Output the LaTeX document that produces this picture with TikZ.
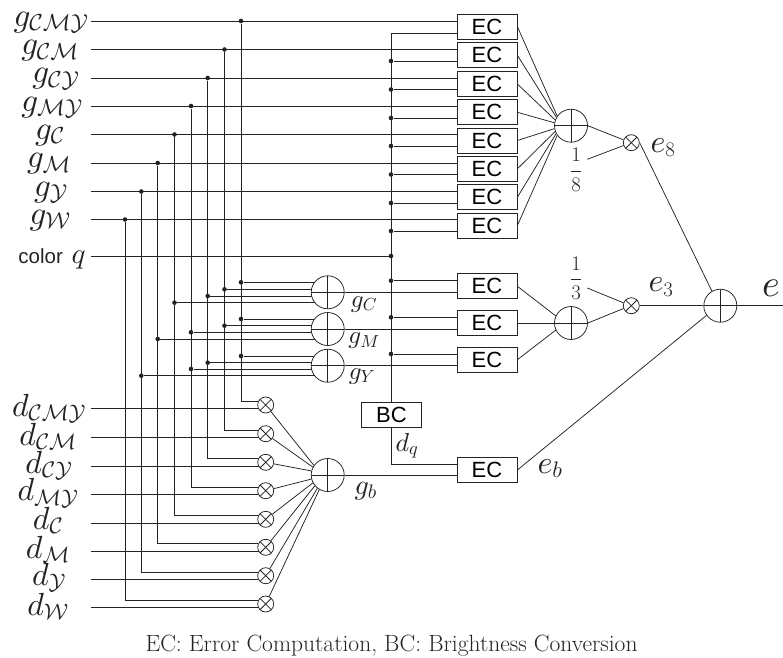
\documentclass[tikz,border=0pt]{standalone}
\usepackage{fontspec}
\usetikzlibrary{backgrounds}
\newfontfamily\helv{Liberation Sans}
\definecolor{wirecol}{RGB}{35,35,35}
\DeclareFontShape{OML}{cmm}{m}{it}{<-> cmmi10}{}
\DeclareFontShape{OMS}{cmsy}{m}{n}{<-> cmsy10}{}

\begin{document}
\begin{tikzpicture}[
  x=1pt, y=-1pt,
  wire/.style={draw=wirecol, line width=0.75pt},
  blk/.style={draw=wirecol, fill=white, line width=0.75pt, minimum width=60pt,
    minimum height=25pt, inner sep=0pt, font=\helv\fontsize{22}{24}\selectfont},
  sumc/.style={circle, draw=wirecol, fill=white, line width=0.75pt, minimum size=33pt,
    inner sep=0pt, path picture={
      \draw[wirecol, line width=0.75pt] (path picture bounding box.north) -- (path picture bounding box.south);
      \draw[wirecol, line width=0.75pt] (path picture bounding box.west) -- (path picture bounding box.east);}},
  mulc/.style={circle, draw=wirecol, fill=white, line width=0.75pt, minimum size=16pt,
    inner sep=0pt, path picture={
      \draw[wirecol, line width=0.75pt] (path picture bounding box.north west) -- (path picture bounding box.south east);
      \draw[wirecol, line width=0.75pt] (path picture bounding box.south west) -- (path picture bounding box.north east);}},
  jct/.style={circle, fill=wirecol, inner sep=0pt, minimum size=4.6pt},
  lab/.style={anchor=base, inner sep=0pt, text=wirecol, font=\fontsize{33}{35}\selectfont},
  dlab/.style={anchor=base, inner sep=0pt, text=wirecol, font=\fontsize{32}{34}\selectfont},
  sublab/.style={anchor=base, inner sep=0pt, text=wirecol, font=\fontsize{25}{27}\selectfont},
  frc/.style={inner sep=0pt, text=wirecol, font=\fontsize{22}{24}\selectfont},
]
  \useasboundingbox (0,0) rectangle (783,657);

  % Input labels, top group
  \node[lab] (lgcmy) at (51,26) {$g_{\mathcal{C}\mathcal{M}\mathcal{Y}}$};
  \node[lab] (lgcm) at (50,54.5) {$g_{\mathcal{C}\mathcal{M}}$};
  \node[lab] (lgcy) at (56,82.7) {$g_{\mathcal{C}\mathcal{Y}}$};
  \node[lab] (lgmy) at (52,111) {$g_{\mathcal{M}\mathcal{Y}}$};
  \node[lab] (lgc) at (50,139) {$g_{\mathcal{C}}$};
  \node[lab] (lgm) at (49,167.7) {$g_{\mathcal{M}}$};
  \node[lab] (lgy) at (51,196) {$g_{\mathcal{Y}}$};
  \node[lab] (lgw) at (50,224) {$g_{\mathcal{W}}$};
  \node[anchor=base, inner sep=0pt, text=wirecol, font=\fontsize{29}{31}\selectfont] (lq) at (52,263)
    {{\helv\fontsize{20.5}{22}\selectfont color} $q$};

  % Input labels, bottom group
  \node[dlab] (ldcmy) at (49,416) {$d_{\mathcal{C}\mathcal{M}\mathcal{Y}}$};
  \node[dlab] (ldcm) at (48,445) {$d_{\mathcal{C}\mathcal{M}}$};
  \node[dlab] (ldcy) at (49,473) {$d_{\mathcal{C}\mathcal{Y}}$};
  \node[dlab] (ldmy) at (48,500.7) {$d_{\mathcal{M}\mathcal{Y}}$};
  \node[dlab] (ldc) at (48,529) {$d_{\mathcal{C}}$};
  \node[dlab] (ldm) at (48,558) {$d_{\mathcal{M}}$};
  \node[dlab] (ldy) at (49,585) {$d_{\mathcal{Y}}$};
  \node[dlab] (ldw) at (48,615) {$d_{\mathcal{W}}$};

  % Free wire ends
  \coordinate (igcmy) at (91,21);
  \coordinate (igcm) at (91,49.5);
  \coordinate (igcy) at (91,78);
  \coordinate (igmy) at (91,106);
  \coordinate (igc) at (91,134.5);
  \coordinate (igm) at (91,163);
  \coordinate (igy) at (91,191.5);
  \coordinate (igw) at (91,219.5);
  \coordinate (iq) at (91,256);
  \coordinate (idcmy) at (91,408.7);
  \coordinate (idcm) at (91,437.3);
  \coordinate (idcy) at (91,466);
  \coordinate (idmy) at (91,494.7);
  \coordinate (idc) at (91,523);
  \coordinate (idm) at (91,551);
  \coordinate (idy) at (91,579.7);
  \coordinate (idw) at (91,607.3);
  \coordinate (oute) at (783,305.7);

  % EC boxes
  \node[blk] (eca) at (487,26.7) {EC};
  \node[blk] (ecb) at (487,55.3) {EC};
  \node[blk] (ecc) at (487,84) {EC};
  \node[blk] (ecd) at (487,112.3) {EC};
  \node[blk] (ece) at (487,140.5) {EC};
  \node[blk] (ecf) at (487,168.8) {EC};
  \node[blk] (ecg) at (487,197.2) {EC};
  \node[blk] (ech) at (487,225.5) {EC};
  \node[blk] (ecj) at (487,286.3) {EC};
  \node[blk] (eck) at (487,323) {EC};
  \node[blk] (ecl) at (487,359.7) {EC};
  \node[blk] (ecm) at (487,470) {EC};
  \node[blk] (bc) at (391.5,414.5) {BC};

  % Adders and multipliers
  \node[sumc] (sumC) at (327.7,292.3) {};
  \node[sumc] (sumM) at (327.7,329) {};
  \node[sumc] (sumY) at (327.7,365.7) {};
  \node[sumc] (sumb) at (327.7,475) {};
  \node[sumc] (sumh) at (571,125.7) {};
  \node[sumc] (sumt) at (571,323) {};
  \node[sumc] (sume) at (720.3,305.7) {};
  \node[mulc] (mula) at (265.7,405) {};
  \node[mulc] (mulb) at (265.7,433.7) {};
  \node[mulc] (mulc) at (265.7,462.3) {};
  \node[mulc] (muld) at (265.7,490.7) {};
  \node[mulc] (mule) at (265.7,519.3) {};
  \node[mulc] (mulf) at (265.7,547.3) {};
  \node[mulc] (mulg) at (265.7,575.7) {};
  \node[mulc] (mulh) at (265.7,604) {};
  \node[mulc] (mulx) at (631.3,142.7) {};
  \node[mulc] (mulz) at (631.3,305.7) {};

  % Weights and output labels
  \node[frc] (frh) at (576,170) {$\displaystyle\frac{1}{8}$};
  \node[frc] (frt) at (576,278.3) {$\displaystyle\frac{1}{3}$};
  \node[dlab] (le8) at (663,152) {$e_8$};
  \node[dlab] (le3) at (661,291.7) {$e_3$};
  \node[dlab] (leb) at (550,473) {$e_b$};
  \node[anchor=base, inner sep=0pt, text=wirecol, font=\fontsize{38}{40}\selectfont] (le) at (771,296) {$e$};
  \node[sublab] (lgC) at (364,307) {$g_C$};
  \node[sublab] (lgM) at (364,343.3) {$g_M$};
  \node[sublab] (lgY) at (362,379) {$g_Y$};
  \node[sublab, font=\fontsize{28}{30}\selectfont] (lgb) at (365.7,494) {$g_b$};
  \node[sublab, font=\fontsize{26}{28}\selectfont] (ldq) at (407,451) {$d_q$};
  \node[anchor=base, inner sep=0pt, text=wirecol, font=\fontsize{23.5}{25}\selectfont] (cap) at (391.5,651.5)
    {EC: Error Computation, BC: Brightness Conversion};

  % Junctions on the input lines
  \node[jct] (jcmy) at (241,21) {};
  \node[jct] (jcm) at (224.5,49.5) {};
  \node[jct] (jcy) at (207.7,78) {};
  \node[jct] (jmy) at (191,106) {};
  \node[jct] (jc) at (174.5,134.5) {};
  \node[jct] (jm) at (157.7,163) {};
  \node[jct] (jy) at (141.3,191.5) {};
  \node[jct] (jw) at (125,219.5) {};

  % Junctions in front of the adders
  \node[jct] (ca) at (241,282.3) {};
  \node[jct] (cb) at (224.5,289.3) {};
  \node[jct] (cc) at (207.7,296) {};
  \node[jct] (cd) at (174.5,302.7) {};
  \node[jct] (ma) at (241,319) {};
  \node[jct] (mb) at (224.5,325.7) {};
  \node[jct] (mc) at (191,332.3) {};
  \node[jct] (md) at (157.7,339) {};
  \node[jct] (ya) at (241,356) {};
  \node[jct] (yb) at (207.7,362.7) {};
  \node[jct] (yc) at (191,369) {};
  \node[jct] (yd) at (141.3,375.7) {};

  % Junctions on the color bus
  \coordinate (qtop) at (391,33);
  \coordinate (qlow) at (391,464.3);
  \node[jct] (qb) at (391,61) {};
  \node[jct] (qc) at (391,89.5) {};
  \node[jct] (qd) at (391,118) {};
  \node[jct] (qe) at (391,146) {};
  \node[jct] (qf) at (391,174.5) {};
  \node[jct] (qg) at (391,203) {};
  \node[jct] (qh) at (391,231) {};
  \node[jct] (qq) at (391,256) {};
  \node[jct] (qj) at (391,280.7) {};
  \node[jct] (qk) at (391,317.3) {};
  \node[jct] (ql) at (391,354) {};

  \begin{scope}[on background layer]
    % Top lines into the EC boxes
    \draw[wire] (igcmy) -- (igcmy -| eca.west);
    \draw[wire] (igcm) -- (igcm -| ecb.west);
    \draw[wire] (igcy) -- (igcy -| ecc.west);
    \draw[wire] (igmy) -- (igmy -| ecd.west);
    \draw[wire] (igc) -- (igc -| ece.west);
    \draw[wire] (igm) -- (igm -| ecf.west);
    \draw[wire] (igy) -- (igy -| ecg.west);
    \draw[wire] (igw) -- (igw -| ech.west);
    \draw[wire] (iq) -- (qq);

    % Vertical lines down to the multipliers
    \draw[wire] (jcmy) |- (mula.153);
    \draw[wire] (jcm) |- (mulb.153);
    \draw[wire] (jcy) |- (mulc.153);
    \draw[wire] (jmy) |- (muld.153);
    \draw[wire] (jc) |- (mule.153);
    \draw[wire] (jm) |- (mulf.153);
    \draw[wire] (jy) |- (mulg.153);
    \draw[wire] (jw) |- (mulh.153);

    % Bottom lines into the multipliers
    \draw[wire] (idcmy) -- (idcmy -| mula);
    \draw[wire] (idcm) -- (idcm -| mulb);
    \draw[wire] (idcy) -- (idcy -| mulc);
    \draw[wire] (idmy) -- (idmy -| muld);
    \draw[wire] (idc) -- (idc -| mule);
    \draw[wire] (idm) -- (idm -| mulf);
    \draw[wire] (idy) -- (idy -| mulg);
    \draw[wire] (idw) -- (idw -| mulh);

    % Lines into the adders
    \draw[wire] (ca) -- (ca -| sumC);
    \draw[wire] (cb) -- (cb -| sumC);
    \draw[wire] (cc) -- (cc -| sumC);
    \draw[wire] (cd) -- (cd -| sumC);
    \draw[wire] (ma) -- (ma -| sumM);
    \draw[wire] (mb) -- (mb -| sumM);
    \draw[wire] (mc) -- (mc -| sumM);
    \draw[wire] (md) -- (md -| sumM);
    \draw[wire] (ya) -- (ya -| sumY);
    \draw[wire] (yb) -- (yb -| sumY);
    \draw[wire] (yc) -- (yc -| sumY);
    \draw[wire] (yd) -- (yd -| sumY);

    % Color bus and its branches
    \draw[wire] (eca.west |- qtop) -- (qtop) -- (bc.north -| qtop);
    \draw[wire] (bc.south -| qlow) -- (qlow) -- (qlow -| ecm.west);
    \draw[wire] (qb) -- (qb -| ecb.west);
    \draw[wire] (qc) -- (qc -| ecc.west);
    \draw[wire] (qd) -- (qd -| ecd.west);
    \draw[wire] (qe) -- (qe -| ece.west);
    \draw[wire] (qf) -- (qf -| ecf.west);
    \draw[wire] (qg) -- (qg -| ecg.west);
    \draw[wire] (qh) -- (qh -| ech.west);
    \draw[wire] (qj) -- (qj -| ecj.west);
    \draw[wire] (qk) -- (qk -| eck.west);
    \draw[wire] (ql) -- (ql -| ecl.west);

    % Adder outputs into the EC boxes
    \draw[wire] (sumC.east) -- (sumC.east -| ecj.west);
    \draw[wire] (sumM.east) -- (sumM.east -| eck.west);
    \draw[wire] (sumY.east) -- (sumY.east -| ecl.west);
    \draw[wire] (sumb.east) -- (sumb.east -| ecm.west);
  \end{scope}

  % Multipliers into the big adder
  \draw[wire] (mula) -- (sumb.145);
  \draw[wire] (mulb) -- (sumb.152);
  \draw[wire] (mulc) -- (sumb.166);
  \draw[wire] (muld) -- (sumb.194);
  \draw[wire] (mule) -- (sumb.208);
  \draw[wire] (mulf) -- (sumb.220);
  \draw[wire] (mulg) -- (sumb.232);
  \draw[wire] (mulh) -- (sumb.240);

  % EC boxes into the adders
  \draw[wire] (eca.east) -- (sumh.145);
  \draw[wire] (ecb.east) -- (sumh.150);
  \draw[wire] (ecc.east) -- (sumh.160);
  \draw[wire] (ecd.east) -- (sumh.170);
  \draw[wire] (ece.east) -- (sumh.190);
  \draw[wire] (ecf.east) -- (sumh.200);
  \draw[wire] (ecg.east) -- (sumh.208);
  \draw[wire] (ech.east) -- (sumh.215);
  \draw[wire] (ecj.east) -- (sumt.155);
  \draw[wire] (eck.east) -- (sumt.west);
  \draw[wire] (ecl.east) -- (sumt.205);

  % Weighted sums into the final adder
  \coordinate (frhr) at (587.3,159.3);
  \coordinate (frtr) at (587.3,288);
  \draw[wire] (sumh.east) -- (mulx.160);
  \draw[wire] (frhr) -- (mulx.200);
  \draw[wire] (sumt.east) -- (mulz.200);
  \draw[wire] (frtr) -- (mulz.160);
  \draw[wire] (mulx.east) -- (sume.120);
  \draw[wire, line width=1.1pt] (mulz) -- (sume);
  \draw[wire] (ecm.east) -- (sume.215);
  \draw[wire] (sume.east) -- (oute);
\end{tikzpicture}
\end{document}
